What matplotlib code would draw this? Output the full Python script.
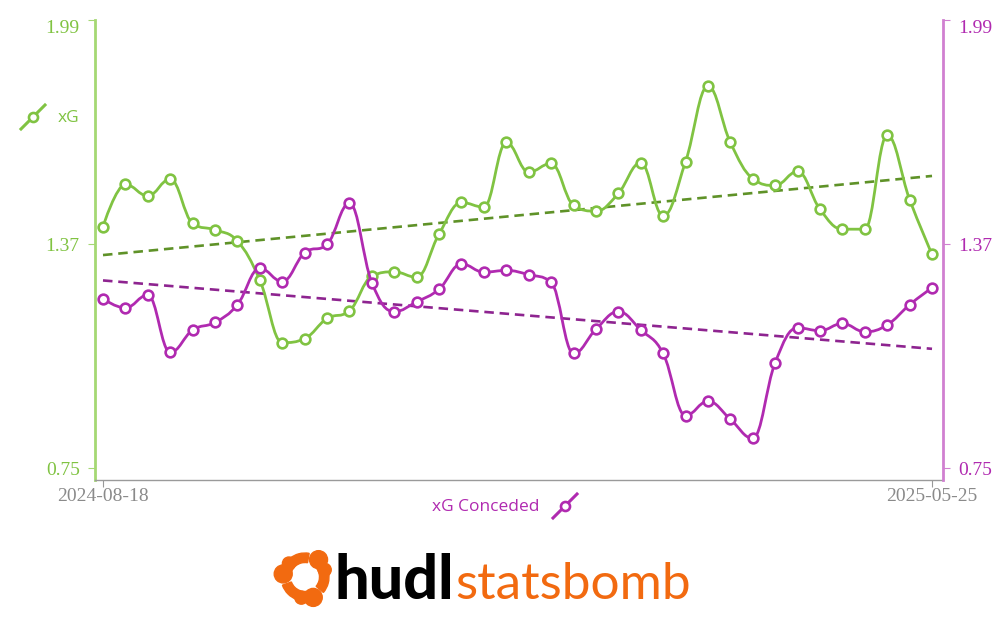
import numpy as np
import matplotlib
matplotlib.use("Agg")
import matplotlib.pyplot as plt
from matplotlib.path import Path
from matplotlib.patches import PathPatch, Circle, Wedge

# data (one value per match)
dates = ["2024-08-18", "2025-05-25"]
xg = [1.418, 1.535, 1.503, 1.550, 1.427, 1.409, 1.378, 1.270, 1.097, 1.108,
      1.164, 1.185, 1.281, 1.293, 1.278, 1.398, 1.485, 1.472, 1.651, 1.569,
      1.593, 1.477, 1.461, 1.510, 1.595, 1.448, 1.598, 1.807, 1.651, 1.551,
      1.532, 1.571, 1.466, 1.411, 1.411, 1.671, 1.493, 1.341]
xg_conceded = [1.218, 1.193, 1.229, 1.070, 1.132, 1.153, 1.202, 1.303, 1.266, 1.346,
               1.369, 1.483, 1.263, 1.183, 1.210, 1.245, 1.315, 1.292, 1.297, 1.285,
               1.264, 1.067, 1.134, 1.183, 1.132, 1.067, 0.895, 0.935, 0.885, 0.832,
               1.042, 1.138, 1.130, 1.150, 1.127, 1.146, 1.202, 1.249]
y_ticks = [0.75, 1.37, 1.99]

GREEN = "#80c342"
GREEN_AXIS = "#a5d873"
GREEN_TREND = "#5f9228"
MAGENTA = "#b02ab0"
MAGENTA_AXIS = "#d080d0"
MAGENTA_TREND = "#8e2490"
ORANGE = "#f26a10"


def spline_path(x, y):
    # bezier smoothing the same way highcharts' "spline" does it
    sm, den = 1.5, 2.5
    n = len(x)
    verts = [(x[0], y[0])]
    codes = [Path.MOVETO]
    right = [(x[0], y[0])] + [None] * (n - 1)
    for i in range(1, n):
        px, py = x[i], y[i]
        lx, ly = x[i - 1], y[i - 1]
        left = (px, py)
        if i < n - 1:
            nx, ny = x[i + 1], y[i + 1]
            lcx = (sm * px + lx) / den
            lcy = (sm * py + ly) / den
            rcx = (sm * px + nx) / den
            rcy = (sm * py + ny) / den
            corr = (rcy - lcy) * (rcx - px) / (rcx - lcx) + py - rcy
            lcy += corr
            rcy += corr
            if lcy > ly and lcy > py:
                lcy = max(ly, py); rcy = 2 * py - lcy
            elif lcy < ly and lcy < py:
                lcy = min(ly, py); rcy = 2 * py - lcy
            if rcy > ny and rcy > py:
                rcy = max(ny, py); lcy = 2 * py - rcy
            elif rcy < ny and rcy < py:
                rcy = min(ny, py); lcy = 2 * py - rcy
            left = (lcx, lcy)
            right[i] = (rcx, rcy)
        else:
            right[i] = (px, py)
        verts += [right[i - 1], left, (px, py)]
        codes += [Path.CURVE4] * 3
    return Path(verts, codes)


W, H = 1004, 622
fig = plt.figure(figsize=(W / 100, H / 100), dpi=100)
ax = fig.add_axes([95 / W, 1 - 480 / H, (943 - 95) / W, (480 - 20) / H])

idx = np.arange(len(xg))
serif = ["Liberation Serif", "DejaVu Serif"]

for vals, col, tcol, z in [(xg, GREEN, GREEN_TREND, 3), (xg_conceded, MAGENTA, MAGENTA_TREND, 4)]:
    ax.add_patch(PathPatch(spline_path(idx, vals), fill=False, edgecolor=col,
                           lw=2, zorder=z, capstyle="round", joinstyle="round"))
    ax.plot(idx, vals, ls="none", marker="o", ms=7, mfc="white", mec=col, mew=1.9, zorder=z + 1)
    k, b = np.polyfit(idx, vals, 1)
    ax.plot(idx[[0, -1]], k * idx[[0, -1]] + b, ls=(0, (3.6, 2.2)), color=tcol, lw=1.9, zorder=2)

ax.set_xlim(-0.357, 37.49)
ax.set_ylim(1.99 - 460 / 361.3, 1.99)

ax.set_xticks([0, len(xg) - 1])
ax.set_xticklabels(dates, fontsize=14, color="#8a8a8a", family=serif)
ax.tick_params(axis="x", length=5, color="#999999", pad=1)

ax.set_yticks(y_ticks)
ax.set_yticklabels([f"{v:.2f}" for v in y_ticks], fontsize=14, color=GREEN, family=serif)
ax.tick_params(axis="y", length=5, color=GREEN_AXIS, pad=6)
ax.get_yticklabels()[-1].set_va("top")

for s in ["top", "right"]:
    ax.spines[s].set_visible(False)
ax.spines["left"].set_color(GREEN_AXIS)
ax.spines["left"].set_linewidth(2)
ax.spines["bottom"].set_color("#9a9a9a")
ax.spines["bottom"].set_linewidth(1)

ax2 = ax.twinx()
ax2.set_ylim(ax.get_ylim())
ax2.set_yticks(y_ticks)
ax2.set_yticklabels([f"{v:.2f}" for v in y_ticks], fontsize=14, color=MAGENTA, family=serif)
ax2.tick_params(axis="y", length=5, color=MAGENTA_AXIS, pad=6)
ax2.get_yticklabels()[-1].set_va("top")
for s in ["top", "left", "bottom"]:
    ax2.spines[s].set_visible(False)
ax2.spines["right"].set_color(MAGENTA_AXIS)
ax2.spines["right"].set_linewidth(2)


# legend entries: small slanted line with a circle
def legend_mark(x0, y0, x1, y1, col):
    fx = [x0 / W, x1 / W]
    fy = [1 - y0 / H, 1 - y1 / H]
    fig.add_artist(plt.Line2D(fx, fy, color=col, lw=2.2, transform=fig.transFigure))
    fig.add_artist(plt.Line2D([sum(fx) / 2], [sum(fy) / 2], marker="o", ms=6.5, mfc="white",
                              mec=col, mew=1.9, transform=fig.transFigure))


legend_mark(21, 129, 45, 105, GREEN)
fig.text(58 / W, 1 - 118 / H, "xG", color=GREEN, fontsize=12.5,
         family=["Open Sans", "DejaVu Sans"], va="center")
legend_mark(553, 518, 577, 494, MAGENTA)
fig.text(540 / W, 1 - 507 / H, "xG Conceded", color=MAGENTA, fontsize=12.5,
         family=["Open Sans", "DejaVu Sans"], va="center", ha="right")

# hudl statsbomb logo
logo = fig.add_axes([270 / W, 1 - 613 / H, 72 / W, 72 / H])
logo.set_xlim(0, 72)
logo.set_ylim(0, 72)
logo.set_aspect("equal")
logo.axis("off")
cx, cy = 35, 36
for start in [80, 200, 320]:
    logo.add_patch(Wedge((cx, cy), 24, start, start + 100, width=9.5, color=ORANGE))
    r = np.deg2rad(start + 92)
    logo.add_patch(Circle((cx + 22 * np.cos(r), cy + 22 * np.sin(r)), 9, color=ORANGE))
    r = np.deg2rad(start + 60)
    logo.add_patch(Circle((cx + 21 * np.cos(r), cy + 21 * np.sin(r)), 6.5, color=ORANGE))

fig.text(335 / W, 1 - 599 / H, "hudl", fontsize=44, fontweight="black", color="black",
         family=["Lato", "DejaVu Sans"], va="baseline")
fig.text(455 / W, 1 - 599 / H, "statsbomb", fontsize=37, color=ORANGE,
         family=["Lato", "DejaVu Sans"], va="baseline")

fig.savefig("out.png", dpi=100, facecolor="white")
